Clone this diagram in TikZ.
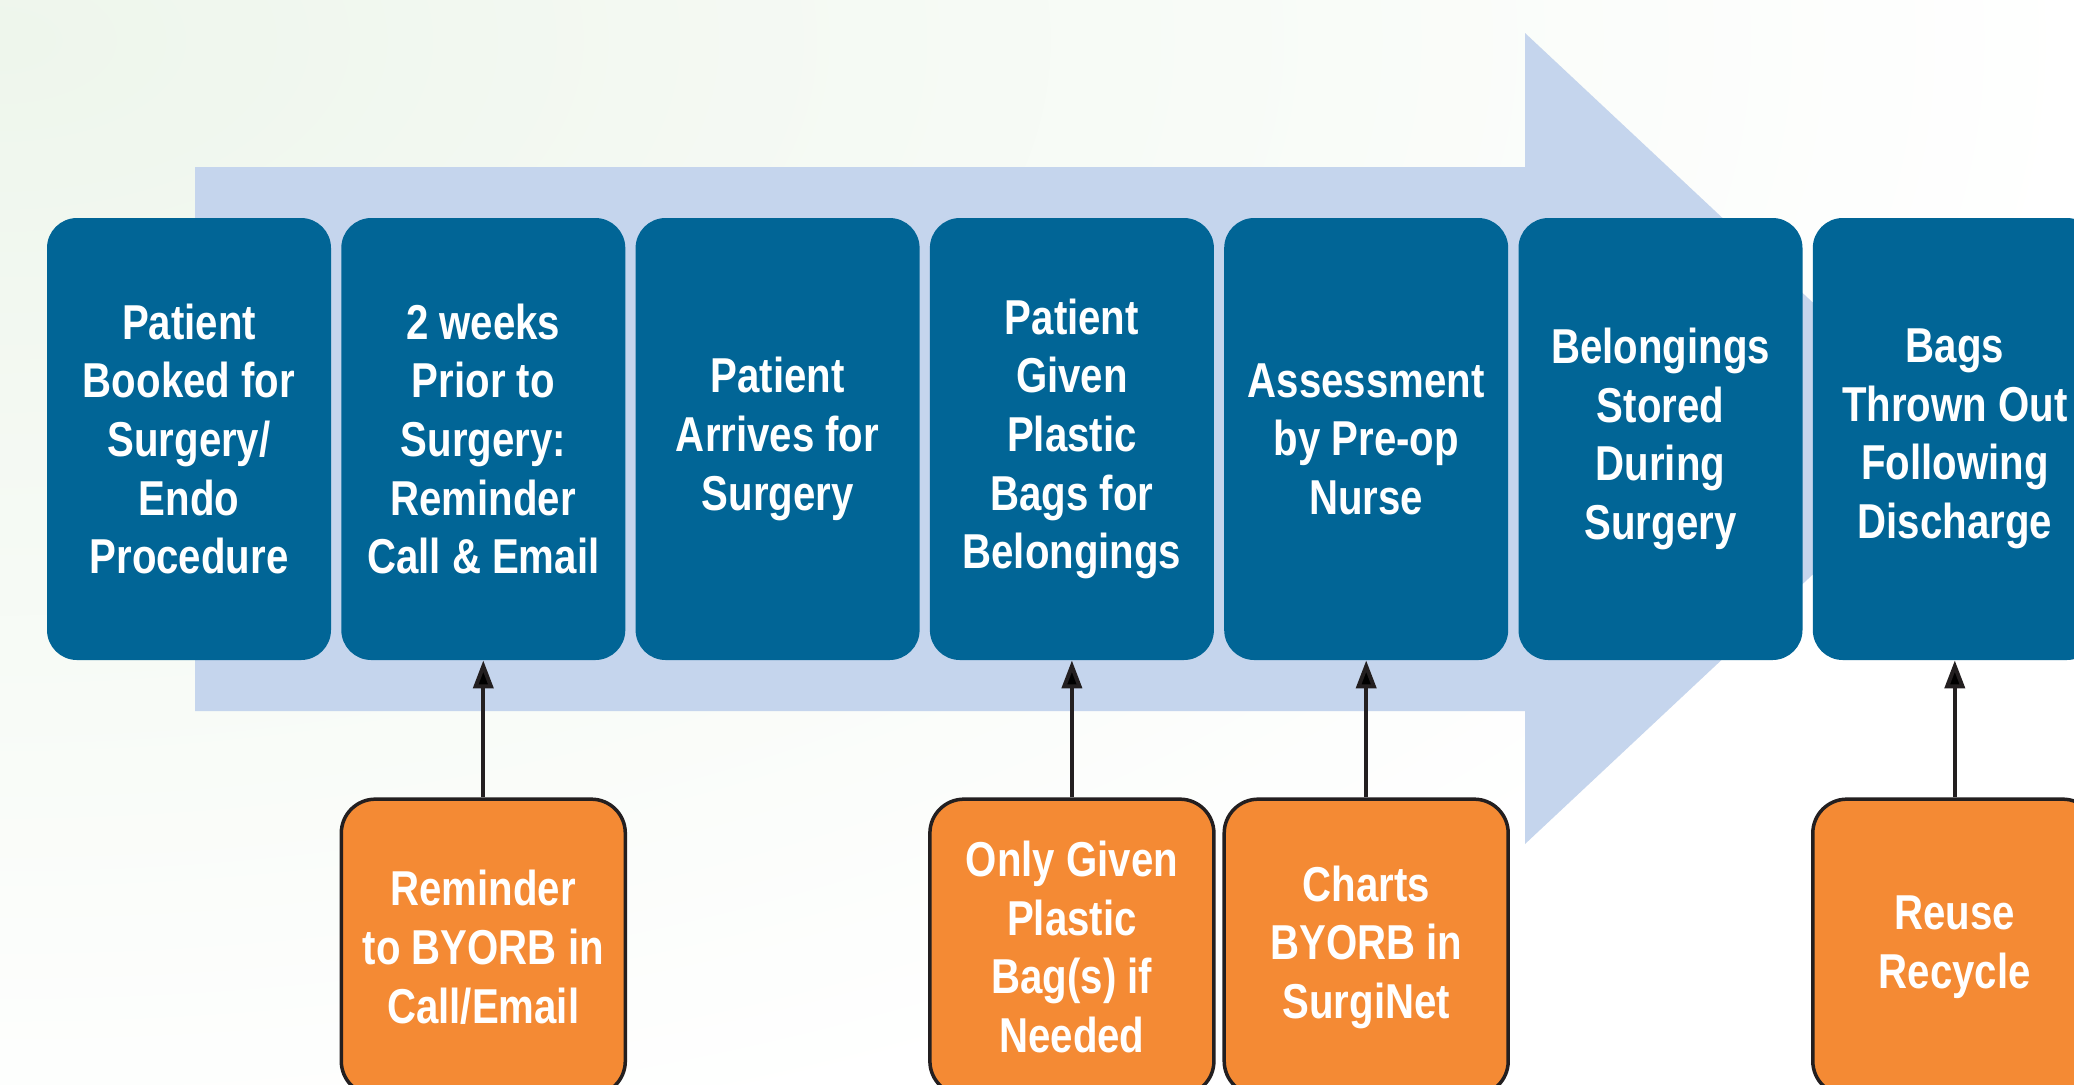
\documentclass[tikz,border=0pt]{standalone}
\usepackage{fontspec}
\setmainfont{Liberation Sans}[FakeStretch=0.82]
\usepackage{tikz}
\usetikzlibrary{arrows.meta}
\usetikzlibrary{positioning}
\definecolor{stageblue}{RGB}{1,101,150}
\definecolor{flowblue}{RGB}{197,213,237}
\definecolor{noteorange}{RGB}{244,138,52}
\definecolor{inkdark}{RGB}{35,31,32}
\definecolor{bggreen}{RGB}{238,246,236}
\begin{document}
\begin{tikzpicture}[x=0.5pt, y=0.5pt, node distance=4.75pt,
    every node/.style={font=\bfseries\fontsize{24.5}{29.3}\selectfont, text=white, align=center},
    stage/.style={fill=stageblue, rounded corners=15pt, minimum width=142pt, minimum height=221pt, inner sep=0pt},
    note/.style={fill=noteorange, draw=inkdark, line width=1.75pt, rounded corners=17pt, minimum width=142pt, minimum height=148pt, inner sep=0pt},
    >={Triangle[width=10pt,length=14pt]}]
        \useasboundingbox (0,0) rectangle (2074,-1084);
        \clip (0,0) rectangle (2074,-1084);
        \fill[white] (0,0) rectangle (2074,-1084);
        \shade[inner color=bggreen, outer color=white] (0,-40) ellipse [x radius=2100, y radius=1150];
        % big flow arrow behind the stages
        \fill[flowblue] (195,-167) -- (1525,-167) -- (1525,-33) -- (1958,-438.5)
            -- (1525,-844) -- (1525,-711) -- (195,-711) -- cycle;

        \node[stage] at (189,-439) (s1) {Patient\\Booked for\\Surgery/\\Endo\\Procedure};
        \node[stage, right=of s1] (s2) {2 weeks\\Prior to\\Surgery:\\Reminder\\Call \& Email};
        \node[stage, right=of s2] (s3) {Patient\\Arrives for\\Surgery};
        \node[stage, right=of s3] (s4) {Patient\\Given\\Plastic\\Bags for\\Belongings};
        \node[stage, right=of s4] (s5) {Assessment\\by Pre-op\\Nurse};
        \node[stage, right=of s5] (s6) {Belongings\\Stored\\During\\Surgery};
        \node[stage, right=of s6] (s7) {Bags\\Thrown Out\\Following\\Discharge};

        \node[note, below=68.5pt of s2] (r2) {Reminder\\to BYORB in\\Call/Email};
        \node[note, below=68.5pt of s4] (r4) {Only Given\\Plastic\\Bag(s) if\\Needed};
        \node[note, below=68.5pt of s5] (r5) {Charts\\BYORB in\\SurgiNet};
        \node[note, below=68.5pt of s7] (r7) {Reuse\\Recycle};

        \path[->, draw=inkdark, line width=2pt]  (r2)  edge (s2);
        \path[->, draw=inkdark, line width=2pt]  (r4)  edge (s4);
        \path[->, draw=inkdark, line width=2pt]  (r5)  edge (s5);
        \path[->, draw=inkdark, line width=2pt]  (r7)  edge (s7);
    \end{tikzpicture}
\end{document}
